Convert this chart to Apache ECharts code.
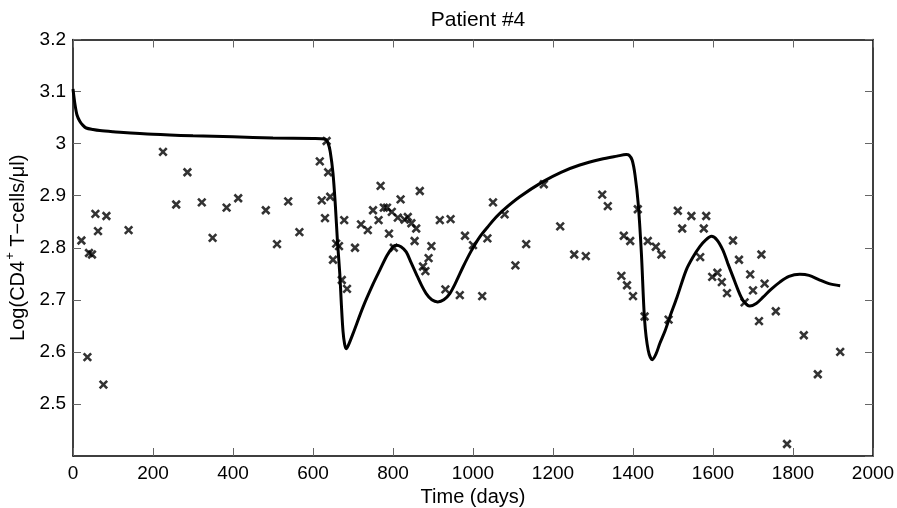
<!DOCTYPE html>
<html>
<head>
<meta charset="utf-8">
<script src="https://cdn.jsdelivr.net/npm/echarts@6/dist/echarts.min.js"></script>
<style>
  html, body { margin: 0; padding: 0; background: #fff; }
  #chart { width: 897px; height: 508px; }
</style>
</head>
<body>
<div id="chart"></div>
<script>
// measured CD4 counts (day, log10 value)
const obsDays = [21, 36, 40, 47.5, 56, 62.5, 76, 83.5, 139, 225, 258, 286, 322, 349, 384, 413,
  482, 510, 538, 566, 617, 622, 630, 634, 638, 643, 650, 658, 665, 672, 678, 685, 705,
  720, 737, 750, 764, 769, 777, 785, 790, 797, 802, 812, 819, 829, 837, 846, 854, 858, 867,
  875, 881, 889, 896, 917, 931, 944, 967, 980, 1000, 1023, 1036, 1050, 1079, 1106, 1133,
  1177, 1218, 1253, 1282, 1323, 1337, 1371, 1377, 1385, 1393, 1400, 1412, 1429, 1437, 1457,
  1471, 1489, 1512, 1523, 1546, 1568, 1577, 1583, 1598, 1611, 1622, 1635, 1650, 1665, 1679,
  1693, 1700, 1715, 1721, 1729, 1757, 1785, 1827, 1862, 1918];
const obsLog = [2.814, 2.590, 2.790, 2.787, 2.865, 2.832, 2.537, 2.861, 2.834, 2.984, 2.883, 2.945, 2.887, 2.819, 2.877, 2.895,
  2.872, 2.807, 2.889, 2.830, 2.966, 2.891, 2.857, 3.005, 2.945, 2.898, 2.777, 2.808, 2.803, 2.738, 2.853, 2.721, 2.800,
  2.845, 2.834, 2.872, 2.853, 2.919, 2.877, 2.877, 2.827, 2.869, 2.800, 2.858, 2.893, 2.854, 2.859, 2.847, 2.813, 2.837, 2.909,
  2.764, 2.755, 2.780, 2.803, 2.853, 2.720, 2.855, 2.709, 2.823, 2.805, 2.707, 2.818, 2.887, 2.864, 2.766, 2.807,
  2.922, 2.841, 2.787, 2.784, 2.902, 2.880, 2.746, 2.823, 2.728, 2.813, 2.707, 2.874, 2.668, 2.813, 2.802,
  2.787, 2.662, 2.871, 2.837, 2.861, 2.782, 2.837, 2.861, 2.744, 2.752, 2.734, 2.713, 2.814, 2.777, 2.695,
  2.749, 2.718, 2.659, 2.787, 2.731, 2.678, 2.423, 2.632, 2.557, 2.600];

// model fit
const fitDays = [0, 5, 10, 17, 25, 33, 50, 67, 100, 200, 300, 400, 500, 600, 630, 638, 643, 650, 656, 661,
  667, 671, 675, 679, 683, 688, 700, 725, 750, 767, 785, 800, 808, 820, 833, 845, 858, 870, 883, 897,
  912, 927, 942, 958, 975, 995, 1017, 1040, 1058, 1075, 1117, 1175, 1220, 1267, 1320, 1360, 1383, 1390,
  1398, 1405, 1413, 1421, 1429, 1438, 1448, 1457, 1467, 1480, 1492, 1510, 1533, 1550, 1567, 1582, 1596,
  1610, 1625, 1637, 1650, 1662, 1675, 1692, 1708, 1725, 1745, 1767, 1790, 1817, 1840, 1867, 1890, 1918];
const fitLog = [3.105, 3.075, 3.055, 3.043, 3.035, 3.030, 3.027, 3.025, 3.023, 3.018, 3.015, 3.013, 3.011, 3.010, 3.009, 3.000, 2.985, 2.943, 2.880, 2.814,
  2.750, 2.690, 2.640, 2.615, 2.606, 2.612, 2.635, 2.686, 2.730, 2.757, 2.785, 2.802, 2.805, 2.802, 2.792, 2.772, 2.750, 2.730, 2.712, 2.700,
  2.696, 2.700, 2.712, 2.735, 2.763, 2.793, 2.821, 2.843, 2.859, 2.872, 2.898, 2.927, 2.945, 2.959, 2.970, 2.976, 2.979, 2.978,
  2.968, 2.940, 2.885, 2.789, 2.661, 2.603, 2.585, 2.595, 2.616, 2.640, 2.667, 2.705, 2.757, 2.782, 2.802, 2.815, 2.822,
  2.815, 2.795, 2.770, 2.744, 2.720, 2.699, 2.688, 2.693, 2.705, 2.720, 2.734, 2.745, 2.749, 2.747, 2.738, 2.731, 2.727];

const FONT = 'Liberation Sans, Arial, Helvetica, sans-serif';
const TICK_COLOR = '#666';

const chart = echarts.init(document.getElementById('chart'));

const xBase = {
  type: 'value', min: 0, max: 2000, interval: 200,
  axisLine: { onZero: false, lineStyle: { color: '#000', width: 1.5 } },
  axisTick: { inside: true, length: 8, lineStyle: { color: TICK_COLOR } },
  splitLine: { show: false }
};
const yBase = {
  type: 'value', min: 2.4, max: 3.2, interval: 0.1,
  axisLine: { onZero: false, lineStyle: { color: '#000', width: 1.5 } },
  axisTick: { inside: true, length: 8, lineStyle: { color: TICK_COLOR } },
  splitLine: { show: false }
};

chart.setOption({
  animation: false,
  backgroundColor: '#fff',
  title: {
    text: 'Patient #4',
    left: 473, top: 5, textAlign: 'center',
    textStyle: { fontFamily: FONT, fontSize: 21, fontWeight: 'normal', color: '#000' }
  },
  grid: { left: 73, right: 24, top: 39.5, bottom: 52, containLabel: false, outerBoundsMode: 'none' },
  xAxis: [
    Object.assign({}, xBase, {
      position: 'bottom',
      name: 'Time (days)', nameLocation: 'middle', nameGap: 31,
      nameTextStyle: { fontFamily: FONT, fontSize: 20, color: '#000' },
      axisLabel: { fontFamily: FONT, fontSize: 19, color: '#000', margin: 8, formatter: v => String(v) }
    }),
    Object.assign({}, xBase, { position: 'top', axisLabel: { show: false } })
  ],
  yAxis: [
    Object.assign({}, yBase, {
      position: 'left',
      name: '{a|Log(CD4}{s|+}{a| T\u2212cells/\u03bcl)}', nameLocation: 'middle', nameGap: 43,
      nameTextStyle: {
        fontFamily: FONT, fontSize: 20, color: '#000',
        rich: {
          a: { fontFamily: FONT, fontSize: 20, color: '#000', lineHeight: 25, verticalAlign: 'bottom' },
          s: { fontFamily: FONT, fontSize: 13, color: '#000', lineHeight: 25, verticalAlign: 'top', padding: [0, 0, 10, 1] }
        }
      },
      axisLabel: {
        fontFamily: FONT, fontSize: 19, color: '#000', margin: 7, showMinLabel: false,
        formatter: v => String(+v.toFixed(1))
      }
    }),
    Object.assign({}, yBase, { position: 'right', axisLabel: { show: false } })
  ],
  series: [
    {
      type: 'line',
      data: fitDays.map((d, i) => [d, fitLog[i]]),
      showSymbol: false, symbol: 'none',
      smooth: 0.3,
      lineStyle: { color: '#000', width: 3 },
      z: 2
    },
    {
      type: 'scatter',
      data: obsDays.map((d, i) => [d, obsLog[i]]),
      symbol: 'path://M0,0L10,10M10,0L0,10',
      symbolSize: 7.5,
      itemStyle: { color: 'none', borderColor: '#000', borderWidth: 2.6 },
      z: 3
    }
  ]
});
</script>
</body>
</html>
